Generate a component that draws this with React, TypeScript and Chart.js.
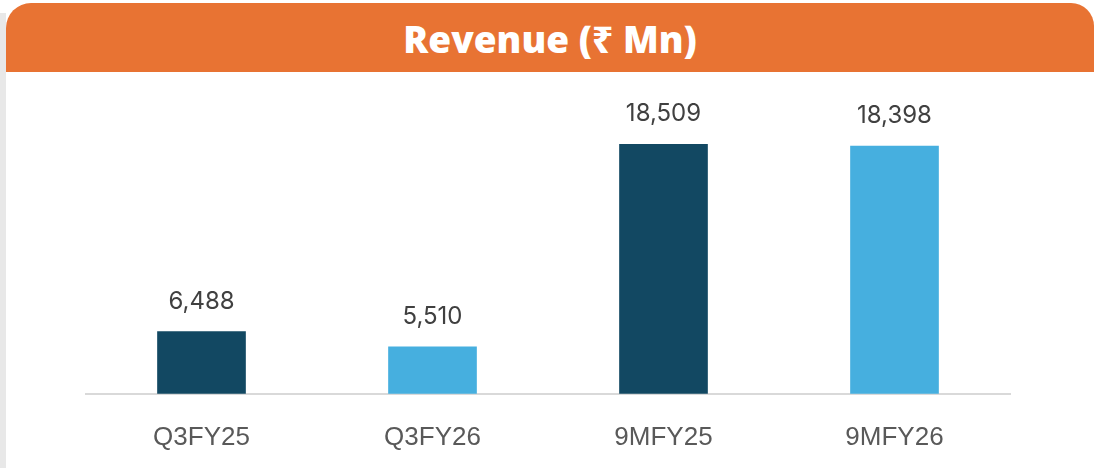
import React, { useEffect, useRef } from "react";
import { Chart, registerables } from "chart.js";

Chart.register(...registerables);

const categories = ["Q3FY25", "Q3FY26", "9MFY25", "9MFY26"];
const revenue = [6488, 5510, 18509, 18398];
const valueLabels = ["6,488", "5,510", "18,509", "18,398"];
const barColors = ["#124862", "#46AFDF", "#124862", "#46AFDF"];
const yMin = 2500;
const yMax = 20000;

const valueLabelPlugin = {
  id: "valueLabels",
  afterDatasetsDraw(chart: any) {
    const ctx = chart.ctx;
    const meta = chart.getDatasetMeta(0);
    ctx.save();
    ctx.font = "24px Inter, 'Open Sans', sans-serif";
    ctx.fillStyle = "#404040";
    ctx.textAlign = "center";
    ctx.textBaseline = "middle";
    meta.data.forEach((bar: any, i: number) => {
      ctx.fillText(valueLabels[i], bar.x, bar.y - 30);
    });
    ctx.restore();
  },
};

export default function App() {
  const canvasRef = useRef<HTMLCanvasElement | null>(null);

  useEffect(() => {
    if (!canvasRef.current) return;
    const chart = new Chart(canvasRef.current, {
      type: "bar",
      data: {
        labels: categories,
        datasets: [
          {
            data: revenue,
            backgroundColor: barColors,
            barThickness: 88,
            borderWidth: 0,
          },
        ],
      },
      options: {
        animation: false,
        responsive: false,
        maintainAspectRatio: false,
        layout: { padding: { left: 86, right: 84, top: 49, bottom: 19 } },
        plugins: {
          legend: { display: false },
          tooltip: { enabled: false },
          title: { display: false },
        },
        scales: {
          x: {
            grid: { display: false, drawTicks: false },
            border: { display: true, color: "#d9d9d9", width: 2 },
            ticks: {
              color: "#595959",
              padding: 28.5,
              font: { family: "'Liberation Sans', Arial, sans-serif", size: 26 },
            },
          },
          y: {
            display: false,
            min: yMin,
            max: yMax,
          },
        },
      },
      plugins: [valueLabelPlugin],
    });
    return () => chart.destroy();
  }, []);

  return (
    <div
      style={{
        position: "fixed",
        left: 0,
        top: 0,
        width: 1094,
        height: 468,
        background: "#ffffff",
        overflow: "hidden",
      }}
    >
      <div
        style={{
          position: "absolute",
          left: 0,
          top: 13,
          width: 6,
          height: 455,
          background: "#e8e8e8",
        }}
      />
      <div
        style={{
          position: "absolute",
          left: 6,
          top: 3,
          width: 1088,
          height: 69,
          background: "#E87333",
          borderRadius: "25px 23px 0 0",
          display: "flex",
          alignItems: "center",
          justifyContent: "center",
          color: "#ffffff",
          fontFamily: "'Open Sans', 'Noto Sans', sans-serif",
          fontWeight: 800,
          fontSize: 37,
        }}
      >
        <span style={{ marginLeft: 0, marginTop: 2 }}>Revenue (₹ Mn)</span>
      </div>
      <canvas
        ref={canvasRef}
        width={1094}
        height={429}
        style={{ position: "absolute", left: 0, top: 72, width: 1094, height: 429 }}
      />
    </div>
  );
}
